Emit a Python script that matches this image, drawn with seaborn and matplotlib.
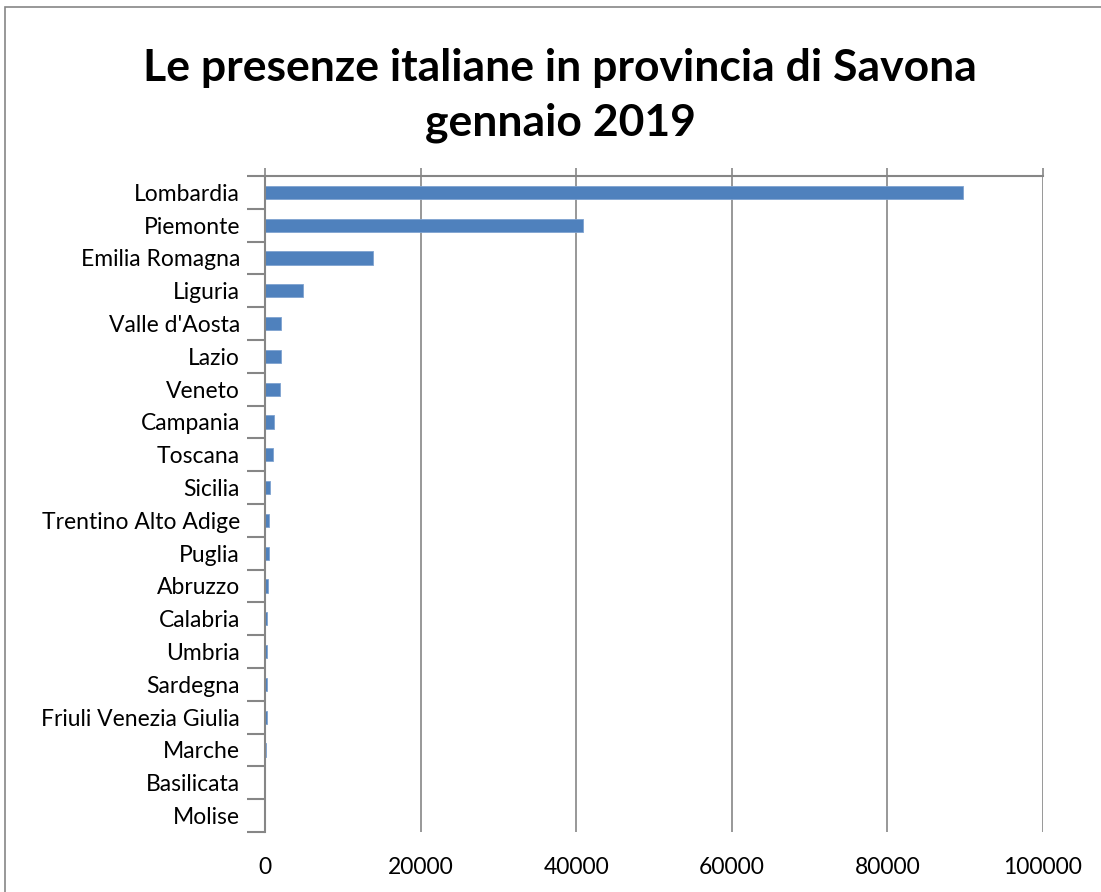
import matplotlib
matplotlib.use('Agg')
import matplotlib.pyplot as plt
import seaborn as sns
import pandas as pd
from matplotlib.patches import Rectangle
from matplotlib.ticker import FixedLocator

# Dati: presenze italiane per regione di provenienza
regioni = ['Lombardia', 'Piemonte', 'Emilia Romagna', 'Liguria', "Valle d'Aosta",
           'Lazio', 'Veneto', 'Campania', 'Toscana', 'Sicilia',
           'Trentino Alto Adige', 'Puglia', 'Abruzzo', 'Calabria', 'Umbria',
           'Sardegna', 'Friuli Venezia Giulia', 'Marche', 'Basilicata', 'Molise']
presenze = [89700, 40900, 13900, 4900, 2100,
            2050, 1930, 1160, 980, 640,
            520, 500, 340, 260, 250,
            230, 210, 190, 60, 40]
x_ticks = [0, 20000, 40000, 60000, 80000, 100000]

df = pd.DataFrame({'regione': regioni, 'presenze': presenze})

sns.set_style('white')
plt.rcParams['font.family'] = ['Lato', 'DejaVu Sans']

fig = plt.figure(figsize=(11.01, 8.92), dpi=100)
ax = fig.add_axes([265/1101, 1-832/892, (1043-265)/1101, (832-176)/892])

sns.barplot(data=df, y='regione', x='presenze', orient='h', color='#4f81bd',
            width=0.4, saturation=1, edgecolor='#7fa3d0', linewidth=0.6, ax=ax)

ax.set_xlim(0, 100000)
ax.set_ylim(len(regioni) - 0.5, -0.5)
ax.set_xticks(x_ticks)
ax.set_xticklabels([str(v) for v in x_ticks])
ax.set_xlabel('')
ax.set_ylabel('')

# griglia verticale
ax.grid(axis='x', color='#868686', linewidth=1.2)
ax.grid(axis='y', visible=False)
ax.set_axisbelow(True)

for s in ['right', 'bottom']:
    ax.spines[s].set_visible(False)
for s in ['top', 'left']:
    ax.spines[s].set_visible(True)
    ax.spines[s].set_color('#868686')
    ax.spines[s].set_linewidth(1.5)

ax.tick_params(axis='x', top=True, bottom=False, labeltop=False, labelbottom=True,
               direction='out', length=6, width=1.2, color='#868686',
               pad=12, labelsize=16.5, labelcolor='black')
# tacche tra le categorie
ax.yaxis.set_minor_locator(FixedLocator([i + 0.5 for i in range(-1, len(regioni))]))
ax.tick_params(axis='y', which='major', length=0, pad=18, labelsize=16.5, labelcolor='black')
ax.tick_params(axis='y', which='minor', left=True, length=13, width=1.5, color='#868686')

fig.suptitle('Le presenze italiane in provincia di Savona\ngennaio 2019',
             x=560/1101, y=1-48/892, fontsize=32, fontweight='bold',
             linespacing=1.45, va='top', color='black')

# cornice del grafico
fig.patches.append(Rectangle((5/1101, -0.1), 1.2, 1.1 - 7/892,
                             transform=fig.transFigure, fill=False,
                             edgecolor='#868686', linewidth=1.2))

fig.savefig('out.png', dpi=100)
